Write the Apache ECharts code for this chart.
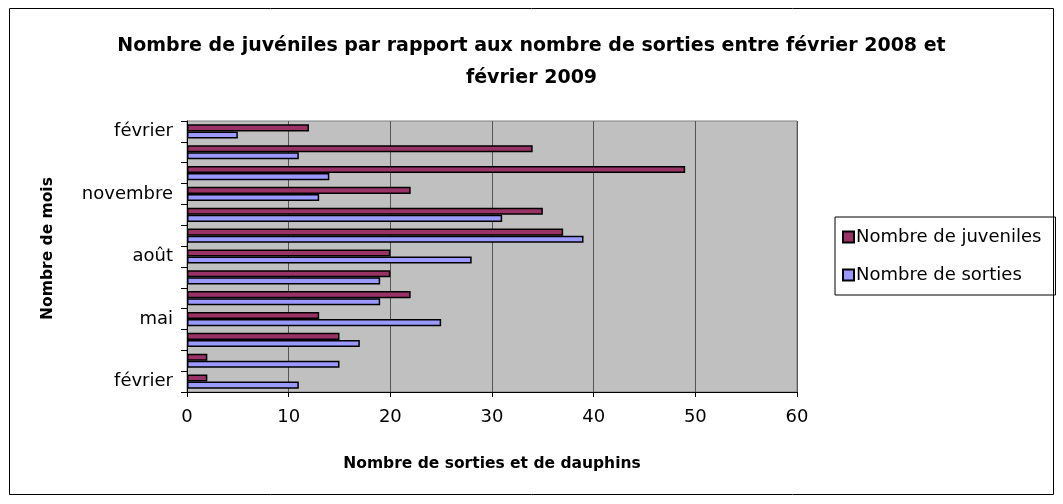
<!DOCTYPE html>
<html>
<head>
<meta charset="utf-8">
<script src="https://cdn.jsdelivr.net/npm/echarts@6/dist/echarts.min.js"></script>
<style>html,body{margin:0;padding:0;background:#fff}#c{width:1063px;height:504px}</style>
</head>
<body>
<div id="c"></div>
<script>
const months = ["février","mars","avril","mai","juin","juillet","août","septembre","octobre","novembre","décembre","janvier","février"];
const juveniles = [2, 2, 15, 13, 22, 20, 20, 37, 35, 22, 49, 34, 12];
const sorties   = [11, 15, 17, 25, 19, 19, 28, 39, 31, 13, 14, 11, 5];
const xTicks = [0, 60, 10];
const titleText = "Nombre de juvéniles par rapport aux nombre de sorties entre février 2008 et\nfévrier 2009";

const chart = echarts.init(document.getElementById('c'), null, {renderer: 'canvas'});
const F = '"DejaVu Sans", sans-serif';
chart.setOption({
  animation: false,
  backgroundColor: '#fff',
  graphic: [{
    type: 'rect', shape: {x: 9.5, y: 8.5, width: 1044, height: 486},
    style: {fill: 'none', stroke: '#000', lineWidth: 1}, silent: true, z: -1
  }],
  title: {
    text: titleText, left: 'center', top: 25,
    textStyle: {fontFamily: F, fontSize: 19, fontWeight: 'bold', color: '#000', lineHeight: 32}
  },
  legend: {
    orient: 'vertical', left: 835, top: 217,
    padding: [11, 14, 11, 7],
    itemGap: 20,
    itemWidth: 11, itemHeight: 11,
    icon: 'rect',
    borderColor: '#000', borderWidth: 1,
    textStyle: {fontFamily: F, fontSize: 18, color: '#000', padding: [0, 0, 0, -3]},
    data: ['Nombre de juveniles', 'Nombre de sorties']
  },
  grid: {
    left: 187, right: 266, top: 121, bottom: 112,
    show: true, backgroundColor: '#C0C0C0', borderColor: '#808080', borderWidth: 1
  },
  xAxis: {
    type: 'value', min: xTicks[0], max: xTicks[1], interval: xTicks[2],
    name: 'Nombre de sorties et de dauphins', nameLocation: 'middle', nameGap: 64,
    nameTextStyle: {fontFamily: F, fontSize: 15.5, fontWeight: 'bold', color: '#000'},
    axisLine: {show: true, lineStyle: {color: '#000', width: 1}},
    axisTick: {show: true, length: 5, lineStyle: {color: '#000'}},
    axisLabel: {fontFamily: F, fontSize: 18, color: '#000', margin: 16},
    splitLine: {show: true, lineStyle: {color: '#555', width: 1}}
  },
  yAxis: {
    type: 'category', data: months,
    name: 'Nombre de mois', nameLocation: 'middle', nameGap: 131, nameRotate: 90,
    nameTextStyle: {fontFamily: F, fontSize: 15.5, fontWeight: 'bold', color: '#000', padding: [0, 0, 0, 16]},
    axisLine: {show: true, lineStyle: {color: '#000', width: 1}},
    axisTick: {show: true, length: 6, interval: 0, alignWithLabel: false, lineStyle: {color: '#000'}},
    axisLabel: {fontFamily: F, fontSize: 18, color: '#000', interval: 2, margin: 14},
    splitLine: {show: false}
  },
  series: [
    {
      name: 'Nombre de juveniles', type: 'bar', data: juveniles,
      barGap: '0%', barCategoryGap: '32%',
      itemStyle: {color: '#993366', borderColor: '#000', borderWidth: 1.5}
    },
    {
      name: 'Nombre de sorties', type: 'bar', data: sorties,
      barGap: '0%', barCategoryGap: '32%',
      itemStyle: {color: '#9999FF', borderColor: '#000', borderWidth: 1.5}
    }
  ]
});
</script>
</body>
</html>
